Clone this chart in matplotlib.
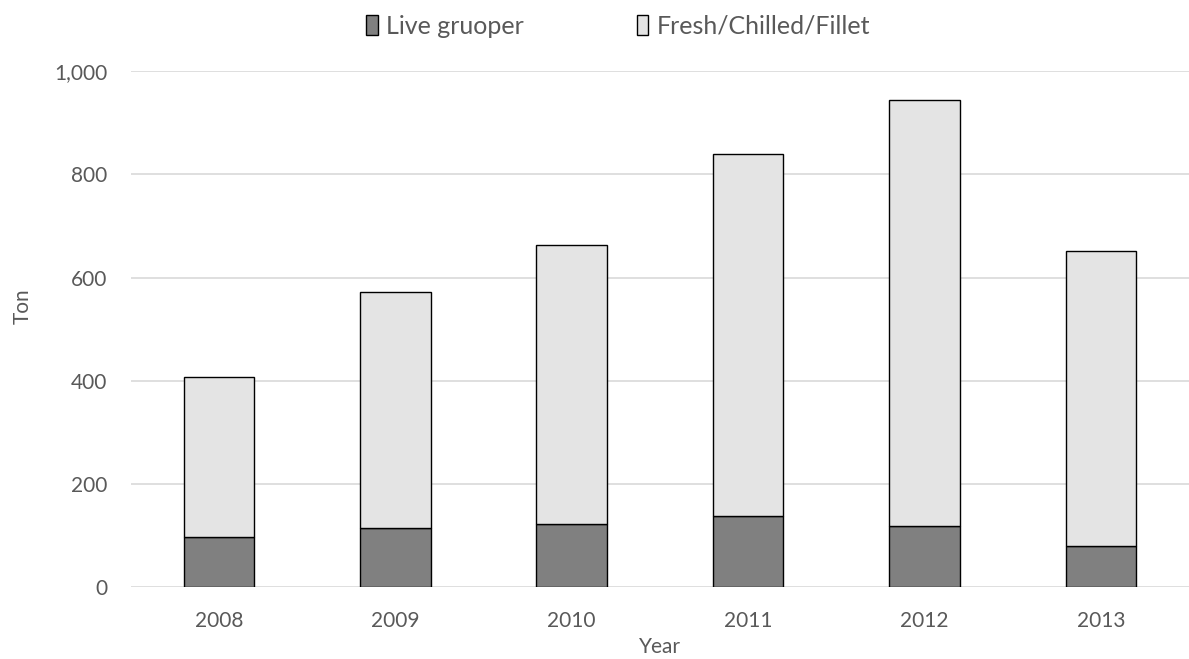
import matplotlib
matplotlib.use("Agg")
import matplotlib.pyplot as plt
from matplotlib.ticker import FuncFormatter
import numpy as np

years = ["2008", "2009", "2010", "2011", "2012", "2013"]
live_grouper = [97, 114, 123, 137, 119, 79]
fresh_chilled_fillet = [311, 458, 540, 703, 825, 573]

plt.rcParams["font.family"] = ["Lato", "DejaVu Sans"]
text_color = "#595959"

fig = plt.figure(figsize=(11.89, 6.59), dpi=100)
ax = fig.add_axes([0.110, 0.109, 0.890, 0.783])

x = np.arange(len(years))
width = 0.4
ax.bar(x, live_grouper, width, color="#808080", edgecolor="black",
       linewidth=1.0, label="Live gruoper", zorder=3)
ax.bar(x, fresh_chilled_fillet, width, bottom=live_grouper, color="#e4e4e4",
       edgecolor="black", linewidth=1.0, label="Fresh/Chilled/Fillet", zorder=3)

ax.set_xlim(-0.5, len(years) - 0.5)
ax.set_ylim(0, 1000)
ax.set_yticks(range(0, 1001, 200))
ax.yaxis.set_major_formatter(FuncFormatter(lambda v, p: f"{int(v):,}"))
ax.set_xticks(x)
ax.set_xticklabels(years)

ax.grid(axis="y", color="#d9d9d9", linewidth=1.2, zorder=0)
for s in ax.spines.values():
    s.set_visible(False)
ax.tick_params(axis="both", length=0, labelsize=15, colors=text_color)
ax.tick_params(axis="x", pad=17)
ax.tick_params(axis="y", pad=17)

ax.set_xlabel("Year", fontsize=15, color=text_color, va="center")
ax.set_ylabel("Ton", fontsize=15, color=text_color)
ax.yaxis.set_label_coords(-0.093, 0.545)
ax.xaxis.set_label_coords(0.5, -0.115)

leg = fig.legend(loc="upper center", bbox_to_anchor=(0.52, 1.012), ncol=2,
                 frameon=False, fontsize=18, handlelength=0.45, handleheight=0.85,
                 handletextpad=0.35, columnspacing=4.5)
for t in leg.get_texts():
    t.set_color(text_color)

fig.savefig("out.png", dpi=100)
